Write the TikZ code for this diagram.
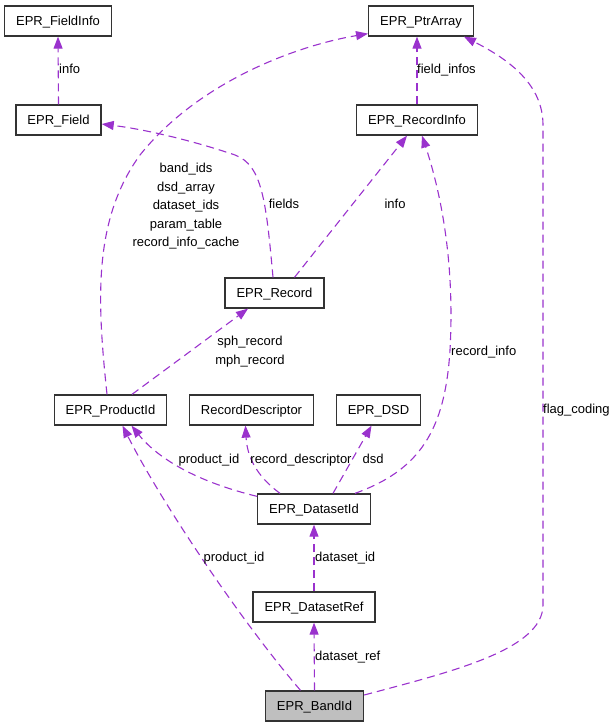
\documentclass[tikz,border=0pt]{standalone}
\usepackage{fontspec}
\setmainfont{Liberation Sans}
\usepackage{tikz}
\usetikzlibrary{arrows.meta, calc, positioning}
\definecolor{edgecol}{HTML}{9A32CD}
\tikzset{
    classbox/.style={draw=black!80,line width=1.3pt,inner xsep=11.5pt,inner ysep=0pt,minimum height=30pt,
      text height=9.3pt,text depth=0pt,font=\fontsize{13}{15}\selectfont},
    mylabel/.style={inner sep=0pt,text height=9.3pt,text depth=0pt,font=\fontsize{13}{15}\selectfont}
}

\begin{document}
\begin{tikzpicture}[x=1pt,y=-1pt]
\tikzset{
    uses/.style={draw=edgecol,line width=1.1pt,dash pattern=on 8pt off 5pt,-{Triangle[length=12pt,width=9pt]}},
    here/.style={classbox,fill=black!25}
}
  \useasboundingbox (0,0) rectangle (615,728);
  \node[classbox] (fieldinfo) at (58,21) {EPR\_FieldInfo};
  \node[classbox] (ptrarray) at (421,21) {EPR\_PtrArray};
  \node[classbox] (field) at (58.5,120) {EPR\_Field};
  \node[classbox] (recinfo) at (417,120) {EPR\_RecordInfo};
  \node[classbox] (record) at (274.5,293) {EPR\_Record};
  \node[classbox] (productid) at (110.5,410) {EPR\_ProductId};
  \node[classbox] (recdesc) at (251.5,410) {RecordDescriptor};
  \node[classbox] (dsd) at (378.5,410) {EPR\_DSD};
  \node[classbox] (datasetid) at (314,509) {EPR\_DatasetId};
  \node[classbox] (datasetref) at (314,607) {EPR\_DatasetRef};
  \node[here] (bandid) at (314.5,706) {EPR\_BandId};

  \draw[uses] (field.north) -- (fieldinfo.south);
  \draw[uses] (recinfo.north) -- (recinfo.north |- ptrarray.south);
  \draw[uses] ($(record.north)+(-1.5,0)$) .. controls (266,200) and (262,165) .. (235,155)
    .. controls (200,143) and (150,130) .. ($(field.east)+(0,4)$);
  \draw[uses] ($(record.north)+(20,0)$) -- ($(recinfo.south)+(-10,0)$);
  \draw[uses] ($(productid.north)+(-3.5,0)$) .. controls (97,300) and (93,220) .. (140,155)
    .. controls (200,80) and (300,45) .. ($(ptrarray.south west)+(0,-3)$);
  \draw[uses] ($(productid.north)+(21.5,0)$) -- ($(record.south)+(-26.5,0)$);
  \draw[uses] ($(datasetid.north west)+(0,3)$) .. controls (190,480) and (155,455) .. ($(productid.south)+(21,0)$);
  \draw[uses] ($(datasetid.north)+(-34,0)$) .. controls (255,475) and (247,455) .. ($(recdesc.south)+(-6,0)$);
  \draw[uses] ($(datasetid.north)+(19,0)$) -- ($(dsd.south)+(-7,0)$);
  \draw[uses] ($(datasetid.north)+(41,0)$) .. controls (420,470) and (445,430) .. (450,350)
    .. controls (455,260) and (440,190) .. ($(recinfo.south)+(5,0)$);
  \draw[uses] (datasetref.north) -- (datasetid.south);
  \draw[uses] (bandid.north) -- (datasetref.south);
  \draw[uses] ($(bandid.north)+(-14,0)$) .. controls (240,620) and (160,500) .. ($(productid.south)+(12,0)$);
  \draw[uses] ($(bandid.east)+(0,-11)$) .. controls (450,672) and (543,650) .. (543,605) -- (543,125)
    .. controls (543,85) and (510,60) .. ($(ptrarray.south east)+(-10,0)$);

  \node[mylabel,anchor=west] (linfo) at (59,69) {info};
  \node[mylabel,anchor=west] (lfieldinfos) at (417,69) {field\_infos};
  \node[mylabel] (lfields) at (284,204) {fields};
  \node[mylabel] (lrecinfo) at (395,204) {info};
  \foreach \txt [count=\i] in {band\_ids,dsd\_array,dataset\_ids,param\_table,record\_info\_cache}
    \node[mylabel] (lptr\i) at (186,149.5+18.5*\i) {\txt};
  \node[mylabel] (lsph) at (250,341) {sph\_record};
  \node[mylabel] (lmph) at (250,360) {mph\_record};
  \node[mylabel,anchor=west] (lrecordinfo) at (451,351) {record\_info};
  \node[mylabel,anchor=west] (lflag) at (543,409) {flag\_coding};
  \node[mylabel] (lprod) at (209,459) {product\_id};
  \node[mylabel] (lrecdesc) at (301,459) {record\_descriptor};
  \node[mylabel] (ldsd) at (373,459) {dsd};
  \node[mylabel] (lprodband) at (234,557) {product\_id};
  \node[mylabel,anchor=west] (ldatasetid) at (315,557) {dataset\_id};
  \node[mylabel,anchor=west] (ldatasetref) at (315,656) {dataset\_ref};
\end{tikzpicture}
\end{document}
